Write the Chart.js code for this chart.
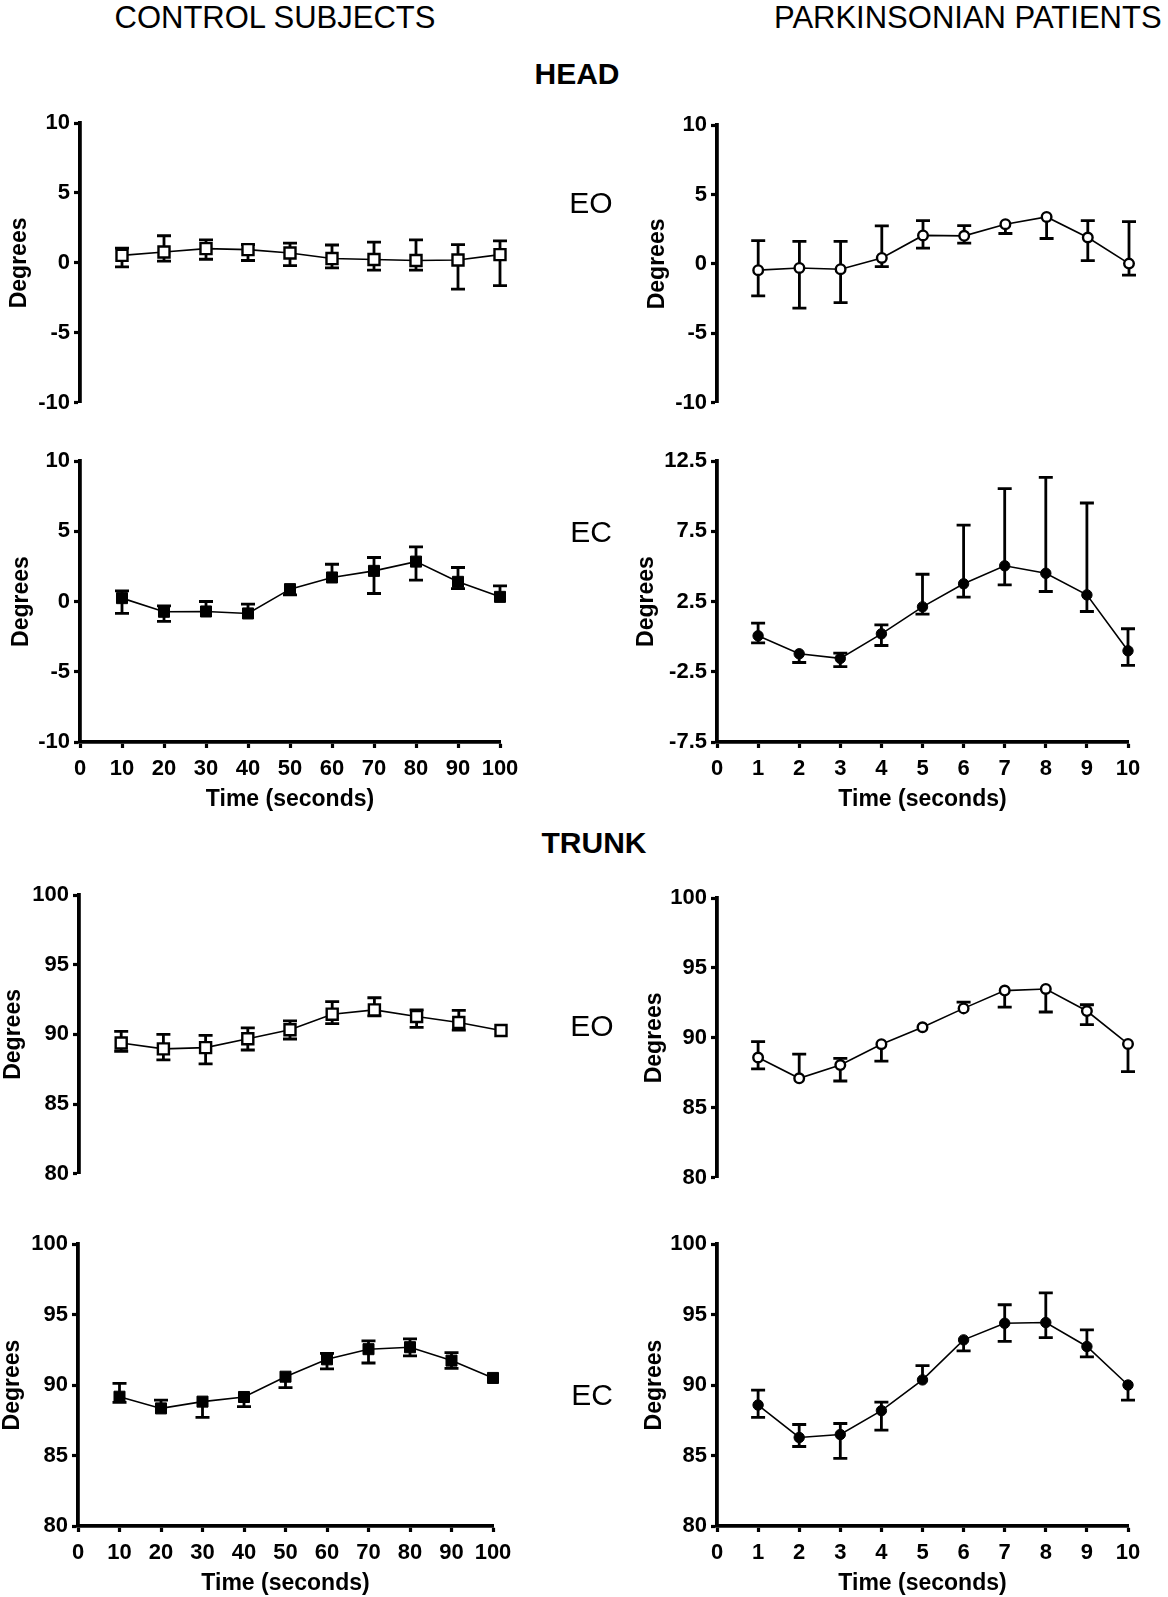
<!DOCTYPE html>
<html><head><meta charset="utf-8">
<script src="https://cdn.jsdelivr.net/npm/chart.js@4.4.1/dist/chart.umd.min.js"></script>
<style>
html,body{margin:0;padding:0;background:#fff;}
body{width:1168px;height:1597px;position:relative;overflow:hidden;font-family:"Liberation Sans",Arial,sans-serif;}
.lbl{position:absolute;white-space:nowrap;line-height:30px;font-size:30px;color:#000;z-index:2;}
.t{font-size:31px;}
.b{font-weight:bold;}
canvas{position:absolute;}
</style></head><body>
<div class="lbl t" style="left:0;width:550px;text-align:center;top:3px">CONTROL SUBJECTS</div>
<div class="lbl t" style="left:774px;top:3px">PARKINSONIAN PATIENTS</div>
<div class="lbl b" style="left:477px;width:200px;text-align:center;top:59px">HEAD</div>
<div class="lbl b" style="left:494px;width:200px;text-align:center;top:828px">TRUNK</div>
<div class="lbl" style="left:491px;width:200px;text-align:center;top:188px">EO</div>
<div class="lbl" style="left:491px;width:200px;text-align:center;top:517px">EC</div>
<div class="lbl" style="left:492px;width:200px;text-align:center;top:1011px">EO</div>
<div class="lbl" style="left:492px;width:200px;text-align:center;top:1380px">EC</div>
<script>
// ---------- data ----------
const timeControl = [10,20,30,40,50,60,70,80,90,100];
const timePD = [1,2,3,4,5,6,7,8,9,10];
const xTicksControl = [0,10,20,30,40,50,60,70,80,90,100];
const xTicksPD = [0,1,2,3,4,5,6,7,8,9,10];
const yTicksHead = [-10,-5,0,5,10];
const yTicksHeadPDEC = [-7.5,-2.5,2.5,7.5,12.5];
const yTicksTrunk = [80,85,90,95,100];
const yLabel = 'Degrees';
const xLabel = 'Time (seconds)';

// Head, eyes open, control (mean, upper bar end, lower bar end)
const headEOCtrlMean = [0.54,0.78,1.02,0.95,0.71,0.31,0.24,0.17,0.21,0.59];
const headEOCtrlHi   = [1.06,1.94,1.65,1.30,1.42,1.28,1.49,1.65,1.30,1.58];
const headEOCtrlLo   = [-0.28,0.12,0.26,0.17,-0.19,-0.35,-0.52,-0.52,-1.87,-1.63];
// Head, eyes open, parkinsonian
const headEOPDMean = [-0.45,-0.29,-0.38,0.43,2.05,2.02,2.86,3.38,1.90,0.02];
const headEOPDHi   = [1.67,1.62,1.62,2.74,3.12,2.76,null,null,3.12,3.05];
const headEOPDLo   = [-2.30,-3.19,-2.79,-0.19,1.14,1.50,2.19,1.83,0.24,-0.81];
// Head, eyes closed, control
const headECCtrlMean = [0.24,-0.73,-0.71,-0.85,0.88,1.71,2.18,2.84,1.40,0.33];
const headECCtrlHi   = [0.76,-0.31,0.00,-0.19,null,2.65,3.13,3.89,2.42,1.11];
const headECCtrlLo   = [-0.85,-1.42,null,null,0.47,null,0.57,1.52,0.92,null];
// Head, eyes closed, parkinsonian
const headECPDMean = [0.06,-1.22,-1.55,0.20,2.12,3.76,5.04,4.51,2.97,-1.01];
const headECPDHi   = [0.96,null,-1.17,0.84,4.44,7.93,10.53,11.34,9.51,0.56];
const headECPDLo   = [-0.44,-1.84,-2.14,-0.63,1.60,2.81,3.68,3.21,1.79,-2.05];
// Trunk, eyes open, control
const trunkEOCtrlMean = [89.38,88.96,89.05,89.69,90.33,91.45,91.76,91.28,90.85,90.28];
const trunkEOCtrlHi   = [90.21,90.00,89.93,90.47,90.97,92.35,92.63,91.76,91.73,null];
const trunkEOCtrlLo   = [88.79,88.17,87.89,88.88,89.67,90.78,91.33,90.50,90.31,null];
// Trunk, eyes open, parkinsonian
const trunkEOPDMean = [88.60,87.11,88.06,89.55,90.76,92.11,93.38,93.50,91.92,89.57];
const trunkEOPDHi   = [89.74,88.84,88.53,null,null,92.56,null,null,92.37,null];
const trunkEOPDLo   = [87.78,null,86.92,88.34,null,null,92.20,91.85,90.95,87.59];
// Trunk, eyes closed, control
const trunkECCtrlMean = [89.17,88.34,88.82,89.15,90.59,91.82,92.54,92.68,91.73,90.50];
const trunkECCtrlHi   = [90.12,88.93,null,null,null,92.25,93.13,93.27,92.30,null];
const trunkECCtrlLo   = [88.77,null,87.70,88.46,89.81,91.14,91.56,92.06,91.18,null];
// Trunk, eyes closed, parkinsonian
const trunkECPDMean = [88.58,86.28,86.49,88.18,90.36,93.20,94.38,94.43,92.73,90.00];
const trunkECPDHi   = [89.64,87.20,87.27,88.79,91.37,null,95.69,96.54,93.91,null];
const trunkECPDLo   = [87.70,85.64,84.79,86.80,null,92.42,93.10,93.36,91.99,88.93];

// ---------- drawing ----------
Chart.defaults.font.family = '"Liberation Sans", Arial, sans-serif';
Chart.defaults.color = '#000';

const errorBars = {
  id: 'errorBars',
  beforeDatasetsDraw(chart) {
    const {ctx, scales: {x, y}} = chart;
    const ds = chart.data.datasets[0];
    ctx.save();
    ctx.strokeStyle = '#000';
    ctx.lineWidth = 2.8;
    ds.data.forEach(p => {
      const px = x.getPixelForValue(p.x);
      const py = y.getPixelForValue(p.y);
      [p.hi, p.lo].forEach(v => {
        if (v === null || v === undefined) return;
        const pv = y.getPixelForValue(v);
        ctx.beginPath();
        ctx.moveTo(px, py); ctx.lineTo(px, pv);
        ctx.moveTo(px - 7, pv); ctx.lineTo(px + 7, pv);
        ctx.stroke();
      });
    });
    ctx.restore();
  }
};

function panel(g) {
  const ct = g.top - 25;
  const xH = g.showX ? 72 : 0;
  const cb = g.bottom + (g.showX ? xH : 15);
  const cr = Math.min(g.right + 40, 1168);
  const cw = cr - g.col, ch = cb - ct;
  const cv = document.createElement('canvas');
  cv.width = cw; cv.height = ch;
  cv.style.left = g.col + 'px'; cv.style.top = ct + 'px';
  cv.style.width = cw + 'px'; cv.style.height = ch + 'px';
  document.body.appendChild(cv);
  const titleLH = 23 * 1.2;
  const padLeft = g.degX - titleLH / 2 - g.col;
  const yW = g.left - g.col - padLeft;
  const padBottom = ch - (g.bottom - ct) - xH;
  const data = g.xs.map((xv, i) => ({x: xv, y: g.mean[i], hi: g.hi[i], lo: g.lo[i]}));
  const filled = g.filled;
  new Chart(cv, {
    type: 'line',
    data: { datasets: [{
      data,
      borderColor: '#000', borderWidth: 1.6, tension: 0, clip: false,
      pointStyle: g.shape,
      pointRadius: g.shape === 'rect' ? 7.8 : (filled ? 5.2 : 4.8),
      pointBorderWidth: filled ? 1 : 2.4,
      pointBackgroundColor: filled ? '#000' : '#fff',
      pointBorderColor: '#000'
    }]},
    options: {
      responsive: false, animation: false, devicePixelRatio: 1, events: [],
      layout: { autoPadding: false, padding: { left: padLeft, top: g.top - ct, right: cr - g.right, bottom: padBottom } },
      plugins: { legend: {display: false}, tooltip: {enabled: false}, title: {display: false} },
      scales: {
        x: {
          type: 'linear', min: g.xTicks[0], max: g.xTicks[g.xTicks.length - 1],
          display: g.showX,
          afterBuildTicks: s => { s.ticks = g.xTicks.map(v => ({value: v})); },
          afterFit: s => { s.height = xH; },
          border: { display: true, color: '#000', width: 3.8 },
          grid: { display: true, drawOnChartArea: false, drawTicks: true, tickLength: 6, tickWidth: 3.2, tickColor: '#000' },
          ticks: { padding: 8, maxRotation: 0, autoSkip: false, font: { size: 22, weight: 'bold' }, color: '#000' },
          title: { display: true, text: xLabel, font: { size: 23, weight: 'bold' }, color: '#000', padding: { top: 0, bottom: 72 - titleLH / 2 - 58 } }
        },
        y: {
          type: 'linear', min: g.yTicks[0], max: g.yTicks[g.yTicks.length - 1],
          afterBuildTicks: s => { s.ticks = g.yTicks.map(v => ({value: v})); },
          afterFit: s => { s.width = yW; },
          border: { display: true, color: '#000', width: 3.8 },
          grid: { display: true, drawOnChartArea: false, drawTicks: true, tickLength: 6, tickWidth: 3.2, tickColor: '#000' },
          ticks: { padding: 4, autoSkip: false, font: { size: 22, weight: 'bold' }, color: '#000', callback: v => String(v) },
          title: { display: true, text: yLabel, font: { size: 23, weight: 'bold' }, color: '#000', padding: 0 }
        }
      }
    },
    plugins: [errorBars]
  });
}

const L = 0, R = 620;
panel({col: L, left: 80, right: 500, top: 123, bottom: 405, degX: 20, showX: false,
  xs: timeControl, xTicks: xTicksControl, yTicks: yTicksHead,
  mean: headEOCtrlMean, hi: headEOCtrlHi, lo: headEOCtrlLo, shape: 'rect', filled: false});
panel({col: R, left: 717, right: 1129, top: 125, bottom: 405, degX: 658, showX: false,
  xs: timePD, xTicks: xTicksPD, yTicks: yTicksHead,
  mean: headEOPDMean, hi: headEOPDHi, lo: headEOPDLo, shape: 'circle', filled: false});
panel({col: L, left: 80, right: 500, top: 461, bottom: 742, degX: 22, showX: true,
  xs: timeControl, xTicks: xTicksControl, yTicks: yTicksHead,
  mean: headECCtrlMean, hi: headECCtrlHi, lo: headECCtrlLo, shape: 'rect', filled: true});
panel({col: R, left: 717, right: 1128, top: 461, bottom: 742, degX: 647, showX: true,
  xs: timePD, xTicks: xTicksPD, yTicks: yTicksHeadPDEC,
  mean: headECPDMean, hi: headECPDHi, lo: headECPDLo, shape: 'circle', filled: true});
panel({col: L, left: 79, right: 501, top: 895, bottom: 1176, degX: 14, showX: false,
  xs: timeControl, xTicks: xTicksControl, yTicks: yTicksTrunk,
  mean: trunkEOCtrlMean, hi: trunkEOCtrlHi, lo: trunkEOCtrlLo, shape: 'rect', filled: false});
panel({col: R, left: 717, right: 1128, top: 898, bottom: 1180, degX: 655, showX: false,
  xs: timePD, xTicks: xTicksPD, yTicks: yTicksTrunk,
  mean: trunkEOPDMean, hi: trunkEOPDHi, lo: trunkEOPDLo, shape: 'circle', filled: false});
panel({col: L, left: 78, right: 493, top: 1244, bottom: 1526, degX: 13, showX: true,
  xs: timeControl, xTicks: xTicksControl, yTicks: yTicksTrunk,
  mean: trunkECCtrlMean, hi: trunkECCtrlHi, lo: trunkECCtrlLo, shape: 'rect', filled: true});
panel({col: R, left: 717, right: 1128, top: 1244, bottom: 1526, degX: 655, showX: true,
  xs: timePD, xTicks: xTicksPD, yTicks: yTicksTrunk,
  mean: trunkECPDMean, hi: trunkECPDHi, lo: trunkECPDLo, shape: 'circle', filled: true});
</script>
</body></html>
